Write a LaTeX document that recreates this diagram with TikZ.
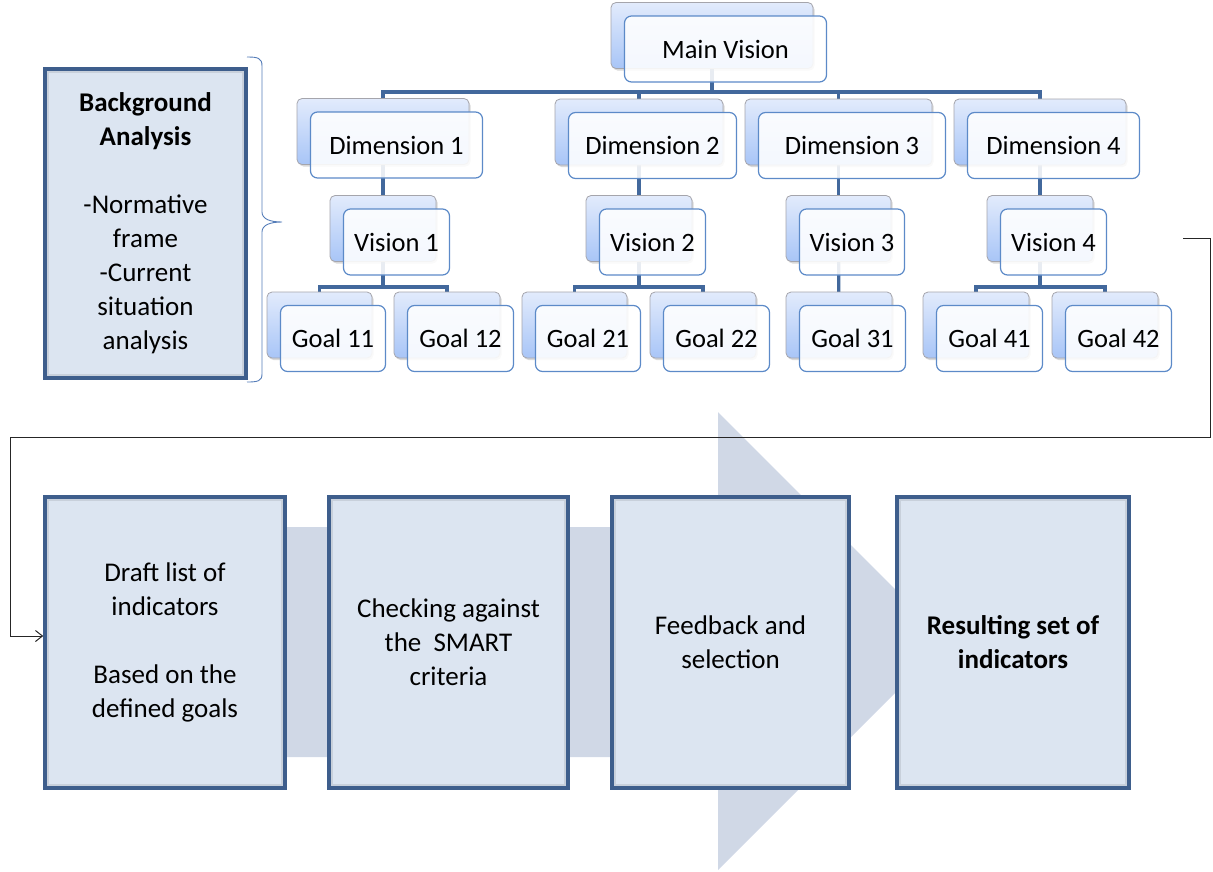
\documentclass[tikz,border=0pt]{standalone}
\usepackage{fontspec}
\setmainfont{Carlito}
\usetikzlibrary{shadows,arrows.meta}

\definecolor{linkblue}{RGB}{66,104,156}
\definecolor{frontedge}{RGB}{92,138,200}
\definecolor{backedge}{RGB}{165,165,172}
\definecolor{backtop}{RGB}{226,235,252}
\definecolor{backbottom}{RGB}{168,197,247}
\definecolor{stageedge}{RGB}{62,94,140}
\definecolor{stagefill}{RGB}{220,229,241}
\definecolor{arrowfill}{RGB}{208,216,230}
\definecolor{bracecol}{RGB}{84,124,184}

\pgfdeclarelayer{links}
\pgfsetlayers{links,main}

\tikzset{
  backbox/.style={rounded corners=5pt, draw=backedge, line width=0.8pt,
    top color=backtop, bottom color=backbottom, inner sep=0pt,
    minimum height=66pt,
    drop shadow={shadow xshift=1.5pt, shadow yshift=-2pt, opacity=0.3}},
  frontbox/.style={rounded corners=7pt, draw=frontedge, line width=1.2pt,
    fill=white, fill opacity=0.88, text opacity=1, inner sep=0pt,
    minimum height=66pt, font=\fontsize{26.5}{31}\selectfont},
  link/.style={draw=linkblue, line width=3.2pt},
  stagebox/.style={draw=stageedge, line width=3.5pt, fill=stagefill,
    align=center, inner sep=0pt, minimum height=291pt,
    font=\fontsize{27}{34}\selectfont,
    path picture={\draw[line width=8pt, black, opacity=0.09]
      (path picture bounding box.south west) rectangle
      (path picture bounding box.north east);}},
  feedback/.style={draw=black!85, line width=1pt,
    -{Straight Barb[length=7pt,width=11pt]}},
}

% a hierarchy element: shaded back card plus translucent front card with the label
% #1 name, #2/#3 centre of the back card, #4 width, #5 label
\newcommand\tierpair[5]{%
  \node[backbox, minimum width=#4pt] (#1-back) at (#2,#3) {};
  \node[frontbox, minimum width=#4pt] (#1) at (#2+13.5,#3+13.5) {#5};
}

\begin{document}
\begin{tikzpicture}[x=1pt,y=-1pt]
\useasboundingbox (0,0) rectangle (1213,871);

% process arrow behind the stage boxes
\fill[arrowfill] (45,527) -- (718,527) -- (718,412) -- (947,641)
  -- (718,870) -- (718,757) -- (45,757) -- cycle;

% hierarchy
\tierpair{mv}{712}{35.5}{202}{Main Vision}
\tierpair{dim1}{383}{131.5}{172}{Dimension 1}
\tierpair{dim2}{639}{132}{168}{Dimension 2}
\tierpair{dim3}{838.5}{132}{187}{Dimension 3}
\tierpair{dim4}{1040}{132}{172}{Dimension 4}
\tierpair{v1}{383}{228.5}{106}{Vision 1}
\tierpair{v2}{639}{228.5}{106}{Vision 2}
\tierpair{v3}{838.5}{228.5}{105}{Vision 3}
\tierpair{v4}{1040}{228.5}{106}{Vision 4}
\tierpair{g11}{319.5}{325}{105}{Goal 11}
\tierpair{g12}{447}{325}{106}{Goal 12}
\tierpair{g21}{574.5}{325}{105}{Goal 21}
\tierpair{g22}{703}{325}{106}{Goal 22}
\tierpair{g31}{839}{325}{106}{Goal 31}
\tierpair{g41}{976}{325}{106}{Goal 41}
\tierpair{g42}{1105}{325}{106}{Goal 42}

\begin{pgfonlayer}{links}
  \foreach \d in {dim1,dim2,dim3,dim4}
    \draw[link] (mv-back.center) -- (mv-back.center |- 0,92) -| (\d-back.center);
  \draw[link] (dim1-back.center) -- (v1-back.center);
  \draw[link] (dim2-back.center) -- (v2-back.center);
  \draw[link] (dim3-back.center) -- (v3-back.center);
  \draw[link] (dim4-back.center) -- (v4-back.center);
  \draw[link] (v1-back.center) -- (v1-back.center |- 0,287) -| (g11-back.center);
  \draw[link] (v1-back.center |- 0,287) -| (g12-back.center);
  \draw[link] (v2-back.center) -- (v2-back.center |- 0,287) -| (g21-back.center);
  \draw[link] (v2-back.center |- 0,287) -| (g22-back.center);
  \draw[link] (v3-back.center) -- (g31-back.center);
  \draw[link] (v4-back.center) -- (v4-back.center |- 0,287) -| (g41-back.center);
  \draw[link] (v4-back.center |- 0,287) -| (g42-back.center);
\end{pgfonlayer}

% background analysis box and its brace
\node[stagebox, minimum width=201pt, minimum height=309pt] (bg) at (145.5,223.5)
  {\textbf{Background}\\\textbf{Analysis}\\[34pt]-Normative\\frame\\-Current\\situation\\analysis};
\draw[bracecol, line width=0.9pt]
  (247,57) .. controls (258,57) and (262,58) .. (262,66) -- (262,212)
  .. controls (262,219) and (270,222) .. (282,222)
  .. controls (270,222) and (262,225) .. (262,232) -- (262,374)
  .. controls (262,381) and (258,382) .. (247,382);

% process stages
\node[stagebox, minimum width=240pt] (draft) at (165,642.5)
  {Draft list of\\indicators\\[34pt]Based on the\\defined goals};
\node[stagebox, minimum width=239pt] (smart) at (448.5,642.5)
  {Checking against\\the\ \ SMART\\criteria};
\node[stagebox, minimum width=237pt] (select) at (730.5,642.5)
  {Feedback and\\selection};
\node[stagebox, minimum width=232pt] (result) at (1013,642.5)
  {\textbf{Resulting set of}\\\textbf{indicators}};

% feedback loop from the hierarchy to the first stage
\coordinate (loopstart) at (1183,238);
\draw[feedback] (loopstart) -- (1210,238) -- (1210,437) -- (10,437) -- (10,636)
  -- (10,636 -| draft.west);
\end{tikzpicture}
\end{document}
